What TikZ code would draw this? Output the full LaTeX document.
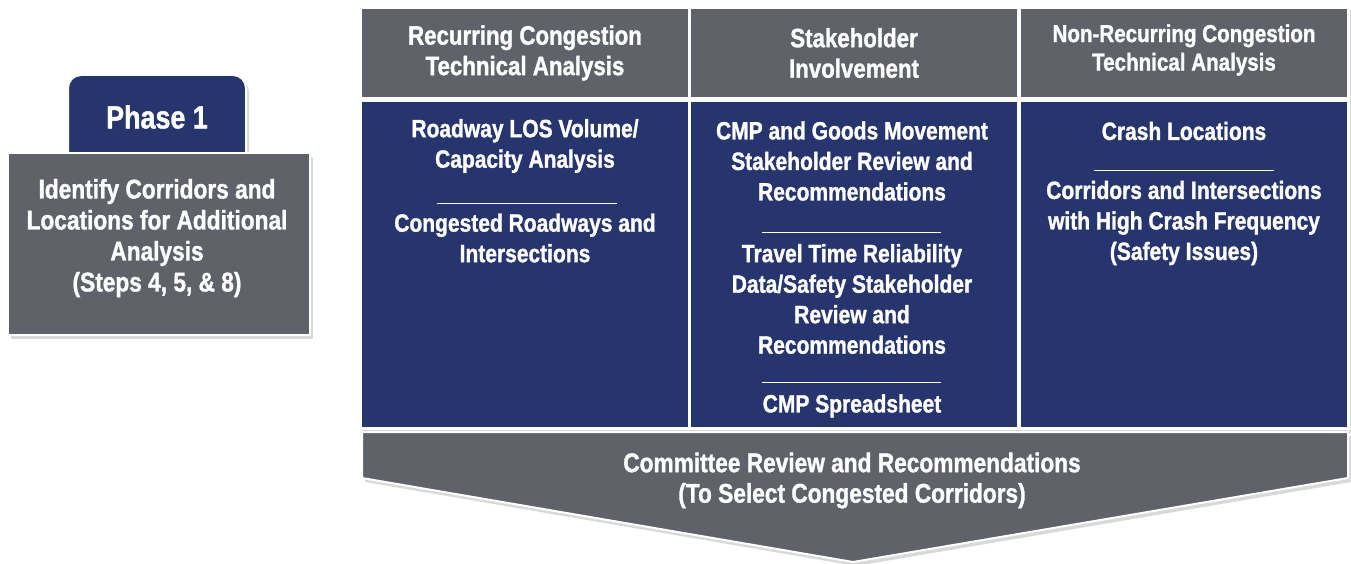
\documentclass[tikz,border=0pt]{standalone}
\usepackage{fontspec}
\setmainfont{Liberation Sans}[FakeStretch=0.84,BoldFeatures={FakeBold=1.2}]
\usetikzlibrary{positioning,shadows}
\definecolor{cmpgray}{HTML}{5F6269}
\definecolor{cmpnavy}{HTML}{27356F}

\begin{document}
\begin{tikzpicture}[x=1pt,y=-1pt,
  txt/.style={text=white,align=center,font=\bfseries\fontsize{26.5}{30.5}\selectfont,inner sep=0pt},
  bodytxt/.style={txt,font=\bfseries\fontsize{25}{30.5}\selectfont},
  headcell/.style={fill=cmpgray,draw=white,line width=2.5pt,minimum width=328pt,minimum height=91pt,inner sep=0pt},
  bodycell/.style={fill=cmpnavy,draw=white,line width=2.5pt,minimum width=328pt,minimum height=328pt,inner sep=0pt},
  sepline/.style={white,line width=0.8pt},
  softshadow/.style={drop shadow={opacity=0.3,shadow xshift=3pt,shadow yshift=-4pt}}]
\useasboundingbox (0,0) rectangle (1351,564);
% table frame
\fill[white,softshadow] (359,5) rectangle (1350,430);
\node[headcell] (hRec) at (525,53) {};
\node[headcell] (hStk) at (854,53) {};
\node[headcell] (hNon) at (1184,53) {};
\node[bodycell] (bRec) at (525,264.5) {};
\node[bodycell] (bStk) at (854,264.5) {};
\node[bodycell] (bNon) at (1184,264.5) {};
% headers
\node[txt] (tRec) at (hRec) {Recurring Congestion\\Technical Analysis};
\node[txt] (tStk) at (hStk) {Stakeholder\\Involvement};
\node[txt,font=\bfseries\fontsize{24.5}{28.5}\selectfont] (tNon) at (1184,50) {Non-Recurring Congestion\\Technical Analysis};
% column 1
\node[bodytxt] (losVol) at (525,146) {Roadway LOS Volume/\\Capacity Analysis};
\node[bodytxt] (congRd) at (525,238) {Congested Roadways and\\Intersections};
\draw[sepline] (437,203) -- (617,203);
% column 2
\node[bodytxt] (goods) at (852,161) {CMP and Goods Movement\\Stakeholder Review and\\Recommendations};
\node[bodytxt] (travel) at (852,299) {Travel Time Reliability\\Data/Safety Stakeholder\\Review and\\Recommendations};
\node[bodytxt] (sheet) at (852,406) {CMP Spreadsheet};
\draw[sepline] (762,232) -- (941,232);
\draw[sepline] (762,382) -- (941,382);
% column 3
\node[bodytxt] (crash) at (1184,131) {Crash Locations};
\node[bodytxt] (hiCrash) at (1184,223) {Corridors and Intersections\\with High Crash Frequency\\(Safety Issues)};
\draw[sepline] (1094,170) -- (1274,170);
% committee arrow
\filldraw[fill=cmpgray,draw=white,line width=2pt,softshadow] (362,432) -- (1348,432) -- (1348,478) -- (853,562) -- (362,478) -- cycle;
\node[txt,font=\bfseries\fontsize{27}{30.5}\selectfont] (comm) at (852,480.5) {Committee Review and Recommendations\\(To Select Congested Corridors)};
% phase 1
\filldraw[fill=cmpnavy,draw=white,line width=2pt,rounded corners=13pt,softshadow] (68,156) -- (68,75) -- (246,75) -- (246,156);
\filldraw[fill=cmpgray,draw=white,line width=2.5pt,softshadow] (8,153) rectangle (310,335);
\node[txt,font=\bfseries\fontsize{32}{36}\selectfont] (phase) at (157,117) {Phase 1};
\node[txt,font=\bfseries\fontsize{27}{31}\selectfont] (ident) at (157,238) {Identify Corridors and\\Locations for Additional\\Analysis\\(Steps 4, 5, \& 8)};
\end{tikzpicture}
\end{document}
